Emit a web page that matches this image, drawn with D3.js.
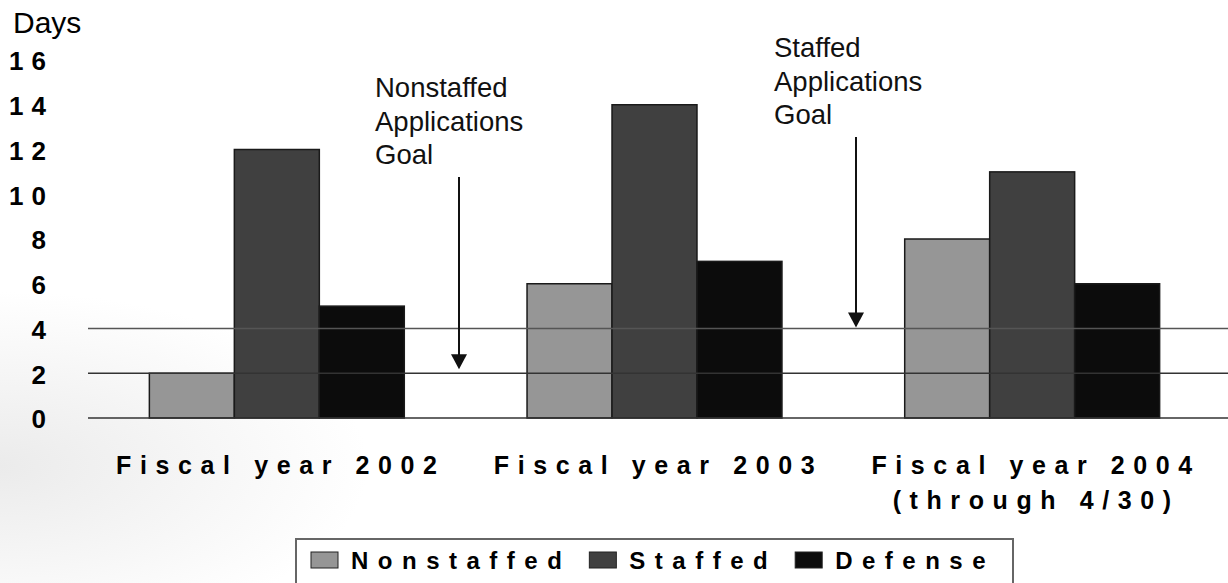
<!DOCTYPE html>
<html><head><meta charset="utf-8">
<script src="https://cdn.jsdelivr.net/npm/d3@7"></script>
<style>
html,body{margin:0;padding:0;background:#fff;}
svg{display:block;font-family:"Liberation Sans",Arial,Helvetica,sans-serif;}
</style></head><body>
<svg id="chart" width="1228" height="583"></svg>
<script>
// ---- data ----
const categories = ["Fiscal year 2002", "Fiscal year 2003", "Fiscal year 2004"];
const categorySubLabels = ["", "", "(through 4/30)"];
const seriesNames = ["Nonstaffed", "Staffed", "Defense"];
const nonstaffed = [2, 6, 8];
const staffed = [12, 14, 11];
const defense = [5, 7, 6];
const yTicks = [0, 2, 4, 6, 8, 10, 12, 14, 16];
const goalValues = [2, 4];
const goalLabels = [["Nonstaffed", "Applications", "Goal"], ["Staffed", "Applications", "Goal"]];
const yAxisTitle = "Days";
const colors = ["#969696", "#404040", "#0c0c0c"];

// ---- layout ----
const W = 1228, H = 583;
const plotL = 88, plotR = 1221, lineR = 1228;
const svg = d3.select("#chart");

// faint background texture
const defs = svg.append("defs");
const rg = defs.append("radialGradient").attr("id", "bg").attr("cx", 0).attr("cy", 0.8).attr("r", 0.3)
  .attr("gradientUnits", "objectBoundingBox");
rg.append("stop").attr("offset", 0).attr("stop-color", "#ebebeb");
rg.append("stop").attr("offset", 0.5).attr("stop-color", "#f5f5f5");
rg.append("stop").attr("offset", 1).attr("stop-color", "#ffffff");
svg.append("rect").attr("width", W).attr("height", H).attr("fill", "url(#bg)");

const y = d3.scaleLinear().domain([0, 16]).range([418, 60]);
const x0 = d3.scaleBand().domain(categories).range([plotL, plotR]).paddingInner(0.325).paddingOuter(0.1625);
const x1 = d3.scaleBand().domain(seriesNames).range([0, x0.bandwidth()]);
const color = d3.scaleOrdinal().domain(seriesNames).range(colors);
const seriesValues = [nonstaffed, staffed, defense];

const rows = [];
categories.forEach((c, i) => seriesNames.forEach((s, j) => rows.push({cat: c, s, v: seriesValues[j][i]})));

// bars
svg.append("g").selectAll("rect").data(rows).join("rect")
  .attr("x", d => x0(d.cat) + x1(d.s))
  .attr("y", d => y(d.v))
  .attr("width", x1.bandwidth())
  .attr("height", d => y(0) - y(d.v))
  .attr("fill", d => color(d.s))
  .attr("stroke", "#1a1a1a").attr("stroke-width", 1.5);

// goal lines + baseline
svg.append("g").selectAll("line").data(goalValues).join("line")
  .attr("x1", plotL).attr("x2", lineR)
  .attr("y1", d => y(d)).attr("y2", d => y(d))
  .attr("stroke", (d, i) => i === 0 ? "#333" : "#555").attr("stroke-width", 1.5);
svg.append("line").attr("x1", plotL).attr("x2", lineR).attr("y1", y(0)).attr("y2", y(0))
  .attr("stroke", "#333").attr("stroke-width", 1.5);

// y axis (labels only)
const yAxis = d3.axisLeft(y).tickValues(yTicks).tickSize(0).tickPadding(0).tickFormat(d3.format("d"));
const gy = svg.append("g").attr("transform", "translate(54,0)").call(yAxis);
gy.select(".domain").remove();
gy.selectAll("text").attr("font-size", 26).attr("font-weight", "bold").attr("fill", "#000")
  .attr("font-family", "Liberation Sans, Arial, sans-serif")
  .style("letter-spacing", "8px").attr("dy", "0.38em");

svg.append("text").attr("x", 13).attr("y", 33).attr("font-size", 30).attr("fill", "#000").text(yAxisTitle);

// x axis labels
const xg = svg.append("g").attr("font-weight", "bold").attr("font-size", 25).attr("fill", "#000")
  .style("letter-spacing", "8.6px");
categories.forEach((c, i) => {
  const cx = x0(c) + x0.bandwidth() / 2 + 4;
  xg.append("text").attr("x", cx).attr("y", 474).attr("text-anchor", "middle").text(c);
  if (categorySubLabels[i]) xg.append("text").attr("x", cx).attr("y", 509).attr("text-anchor", "middle").text(categorySubLabels[i]);
});

// goal annotations
const arrowX = [459, 856], arrowTop = [177, 137], tipGap = [4, 1];
const textX = [375, 774], textTop = [97, 57];
goalValues.forEach((g, i) => {
  const tip = y(g) - tipGap[i];
  svg.append("line").attr("x1", arrowX[i]).attr("x2", arrowX[i]).attr("y1", arrowTop[i]).attr("y2", tip - 12)
    .attr("stroke", "#111").attr("stroke-width", 2);
  svg.append("path").attr("d", `M${arrowX[i] - 8},${tip - 15}L${arrowX[i] + 8},${tip - 15}L${arrowX[i]},${tip}Z`).attr("fill", "#111");
  const t = svg.append("text").attr("font-size", 27.5).attr("fill", "#111");
  goalLabels[i].forEach((l, k) => t.append("tspan").attr("x", textX[i]).attr("y", textTop[i] + k * 33.5).text(l));
});

// legend
const lg = svg.append("g");
lg.append("rect").attr("x", 296).attr("y", 539).attr("width", 717).attr("height", 80)
  .attr("fill", "#fff").attr("stroke", "#666").attr("stroke-width", 2);
let lx = 311;
seriesNames.forEach((s, i) => {
  lg.append("rect").attr("x", lx).attr("y", 552).attr("width", 27).attr("height", 16)
    .attr("fill", color(s)).attr("stroke", "#222").attr("stroke-width", 1);
  const t = lg.append("text").attr("x", lx + 40).attr("y", 569).attr("font-size", 24).attr("font-weight", "bold")
    .attr("fill", "#000").style("letter-spacing", "9.5px").text(s);
  lx = lx + 40 + t.node().getComputedTextLength() + 18;
});
</script>
</body></html>
